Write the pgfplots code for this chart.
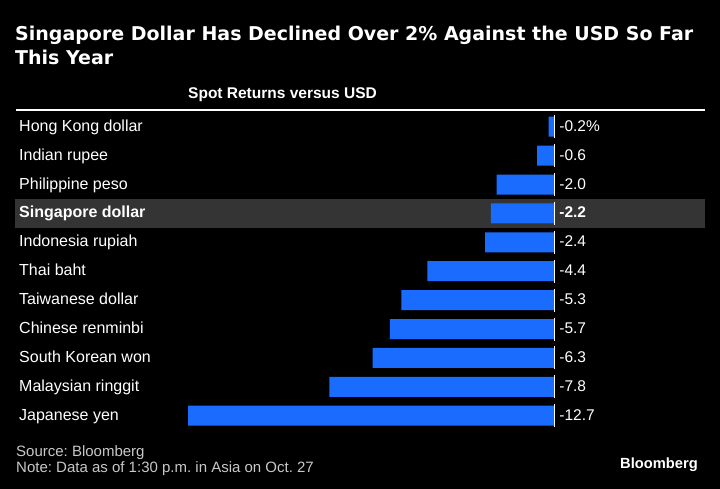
\documentclass[border=0pt]{standalone}
\usepackage{pgfplots}
\pgfplotsset{compat=1.18}
\usepackage{fontspec}
\setmainfont{Liberation Sans}
\newfontfamily\titlefont{DejaVu Sans}
\definecolor{bbblue}{RGB}{26,108,255}
\definecolor{band}{RGB}{52,52,52}
\definecolor{notegray}{RGB}{200,200,200}
\frenchspacing
\begin{document}
\begin{tikzpicture}[x=1bp,y=1bp]
\fill[black] (0,0) rectangle (720,489);
% highlight band behind the Singapore dollar row (row 3 of the axis below)
\fill[band] (15,261.14) rectangle (705,290.04);
\node[anchor=base west, inner sep=0pt, text=white, font=\titlefont\bfseries\fontsize{19bp}{23bp}\selectfont] at (15,448) {Singapore Dollar Has Declined Over 2\% Against the USD So Far};
\node[anchor=base west, inner sep=0pt, text=white, font=\titlefont\bfseries\fontsize{19bp}{23bp}\selectfont] at (15,424) {This Year};
\node[anchor=base west, inner sep=0pt, text=white, font=\bfseries\fontsize{15.5bp}{18bp}\selectfont] at (188,390) {Spot Returns versus USD};
\draw[white, line width=1.6bp] (16,379) -- (705,379);
\begin{axis}[
  at={(15bp,58.8bp)}, anchor=south west,
  scale only axis, width=690bp, height=317.95bp,
  xmin=-18.70, xmax=5.225, ymin=-0.5, ymax=10.5,
  y dir=reverse,
  axis line style={draw=none},
  major tick length=0pt,
  xtick=\empty,
  ytick={0,1,2,3,4,5,6,7,8,9,10},
  yticklabels={Hong Kong dollar, Indian rupee, Philippine peso, \textbf{Singapore dollar}, Indonesia rupiah, Thai baht, Taiwanese dollar, Chinese renminbi, South Korean won, Malaysian ringgit, Japanese yen},
  yticklabel style={anchor=base west, inner sep=0pt, xshift=4bp, yshift=-4.5bp, text=white, font=\fontsize{16bp}{19bp}\selectfont},
  clip=false,
]
\addplot[xbar, bar width=20bp, fill=bbblue, draw=none] coordinates {
  (-0.2,0) (-0.6,1) (-2.0,2) (-2.2,3) (-2.4,4) (-4.4,5) (-5.3,6) (-5.7,7) (-6.3,8) (-7.8,9) (-12.7,10)
};
\addplot[only marks, mark=|, mark size=11.5bp, mark options={white, line width=1.1bp},
  point meta=explicit symbolic, nodes near coords,
  nodes near coords style={anchor=base west, inner sep=0pt, xshift=4.5bp, yshift=-4.5bp, text=white, font=\fontsize{15.5bp}{18bp}\selectfont}]
coordinates {
  (0,0) [-0.2\%] (0,1) [-0.6] (0,2) [-2.0] (0,3) [\textbf{-2.2}] (0,4) [-2.4] (0,5) [-4.4] (0,6) [-5.3] (0,7) [-5.7] (0,8) [-6.3] (0,9) [-7.8] (0,10) [-12.7]
};
\end{axis}
\node[anchor=base west, inner sep=0pt, text=notegray, font=\fontsize{15bp}{18bp}\selectfont] at (16,32.3) {Source: Bloomberg};
\node[anchor=base west, inner sep=0pt, text=notegray, font=\fontsize{15bp}{18bp}\selectfont] at (16,16.3) {Note: Data as of 1:30 p.m. in Asia on Oct. 27};
\node[anchor=base east, inner sep=0pt, text=white, font=\bfseries\fontsize{14.7bp}{17bp}\selectfont] at (698,20) {Bloomberg};
\end{tikzpicture}
\end{document}
